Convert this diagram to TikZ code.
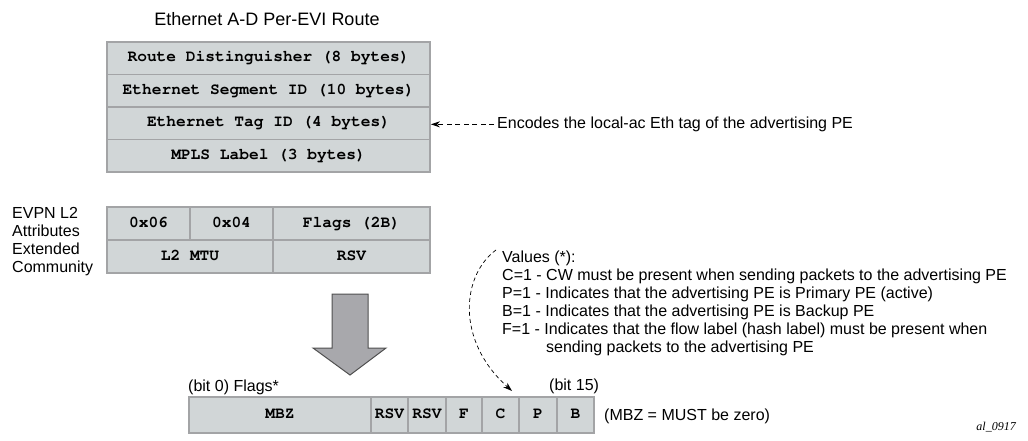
\documentclass[tikz,border=0pt]{standalone}
\usepackage{fontspec}
\setmainfont{Liberation Sans}
\newfontfamily\timesf{Liberation Serif}
\newcommand\courb{\fontencoding{OT1}\fontfamily{pcr}\fontseries{b}\fontshape{n}\selectfont}
\usetikzlibrary{arrows.meta}
\definecolor{cellfill}{RGB}{209,214,215}
\definecolor{cellline}{RGB}{163,164,166}
\definecolor{bigfill}{RGB}{168,168,172}
\definecolor{bigline}{RGB}{80,80,80}
\begin{document}
\begin{tikzpicture}[x=1pt,y=-1pt,
  cell/.style={draw=cellline, fill=cellfill, line width=1.8pt, inner sep=0pt,
    font=\courb\fontsize{16.2}{18}\selectfont, text height=10pt, text depth=2.5pt},
  lbl/.style={inner sep=0pt, anchor=base west, font=\fontsize{16}{18}\selectfont},
  title/.style={inner sep=0pt, anchor=base, font=\fontsize{18}{20}\selectfont},
  darr/.style={line width=0.8pt, dash pattern=on 5pt off 3.5pt, -{Stealth[length=9pt,width=6pt]}},
  bigarrow/.style={fill=bigfill, draw=bigline, line width=1pt, line join=miter}
]
\useasboundingbox (0,0) rectangle (1028,441);

% title
\node[title] (ttl) at (267,26) {Ethernet A-D Per-EVI Route};

% route box
\node[cell, minimum width=323pt, minimum height=32.5pt] (rd)   at (268.5,58.25)  {Route Distinguisher (8 bytes)};
\node[cell, minimum width=323pt, minimum height=32.5pt] (esi)  at (268.5,90.75)  {Ethernet Segment ID (10 bytes)};
\node[cell, minimum width=323pt, minimum height=32.5pt] (tag)  at (268.5,123.25) {Ethernet Tag ID (4 bytes)};
\node[cell, minimum width=323pt, minimum height=32.5pt] (mpls) at (268.5,155.75) {MPLS Label (3 bytes)};

% encodes note
\node[lbl] (enc) at (497,128.5) {Encodes the local-ac Eth tag of the advertising PE};
\coordinate (encs) at ([xshift=-3pt]enc.west);
\draw[darr] (encs) -- (encs -| tag.east);

% EVPN L2 label
\node[lbl] (ev1) at (12,218) {EVPN L2};
\node[lbl] (ev2) at (12,236) {Attributes};
\node[lbl] (ev3) at (12,254) {Extended};
\node[lbl] (ev4) at (12,272) {Community};

% EVPN box
\node[cell, minimum width=83pt,  minimum height=33pt] (c06) at (148.5,223.5) {0x06};
\node[cell, minimum width=83pt,  minimum height=33pt] (c04) at (231.5,223.5) {0x04};
\node[cell, minimum width=157pt, minimum height=33pt] (flg) at (351.5,223.5) {Flags (2B)};
\node[cell, minimum width=166pt, minimum height=33pt] (mtu) at (190,256.5)   {L2 MTU};
\node[cell, minimum width=157pt, minimum height=33pt] (rsv) at (351.5,256.5) {RSV};

% big arrow
\draw[bigarrow] (332,294) -- (368,294) -- (368,348) -- (386,348) -- (350,375) -- (313,348) -- (332,348) -- cycle;

% values text
\node[lbl] (v0) at (502,262)   {Values (*):};
\node[lbl] (v1) at (502,280.5) {C=1 - CW must be present when sending packets to the advertising PE};
\node[lbl] (v2) at (502,298.5) {P=1 - Indicates that the advertising PE is Primary PE (active)};
\node[lbl] (v3) at (502,316.5) {B=1 - Indicates that the advertising PE is Backup PE};
\node[lbl] (v4) at (502,334.5) {F=1 - Indicates that the flow label (hash label) must be present when};
\node[lbl] (v5) at (546,352.5) {sending packets to the advertising PE};

% bit labels
\node[lbl] (b0)  at (188,391) {(bit 0) Flags*};
\node[lbl] (b15) at (549,390) {(bit 15)};

% flags box
\node[cell, minimum width=182pt, minimum height=36pt] (mbz) at (280,415)   {MBZ};
\node[cell, minimum width=37pt,  minimum height=36pt] (r1)  at (389.5,415) {RSV};
\node[cell, minimum width=38pt,  minimum height=36pt] (r2)  at (427,415)   {RSV};
\node[cell, minimum width=36pt,  minimum height=36pt] (f)   at (464,415)   {F};
\node[cell, minimum width=37pt,  minimum height=36pt] (c)   at (500.5,415) {C};
\node[cell, minimum width=38pt,  minimum height=36pt] (p)   at (538,415)   {P};
\node[cell, minimum width=37pt,  minimum height=36pt] (b)   at (575.5,415) {B};

\node[lbl] (mbzn) at (604,420.5) {(MBZ = MUST be zero)};

% curved dashed arrow
\coordinate (vs) at (496,250);
\coordinate (ve) at (512,391);
\draw[darr, line width=0.7pt, dash pattern=on 4pt off 3pt] (vs) .. controls (462,275) and (455,340) .. (ve);

% figure id
\node[inner sep=0pt, anchor=base east, font=\timesf\itshape\fontsize{12}{14}\selectfont] (fid) at (1016,430) {al\_0917};
\end{tikzpicture}
\end{document}
